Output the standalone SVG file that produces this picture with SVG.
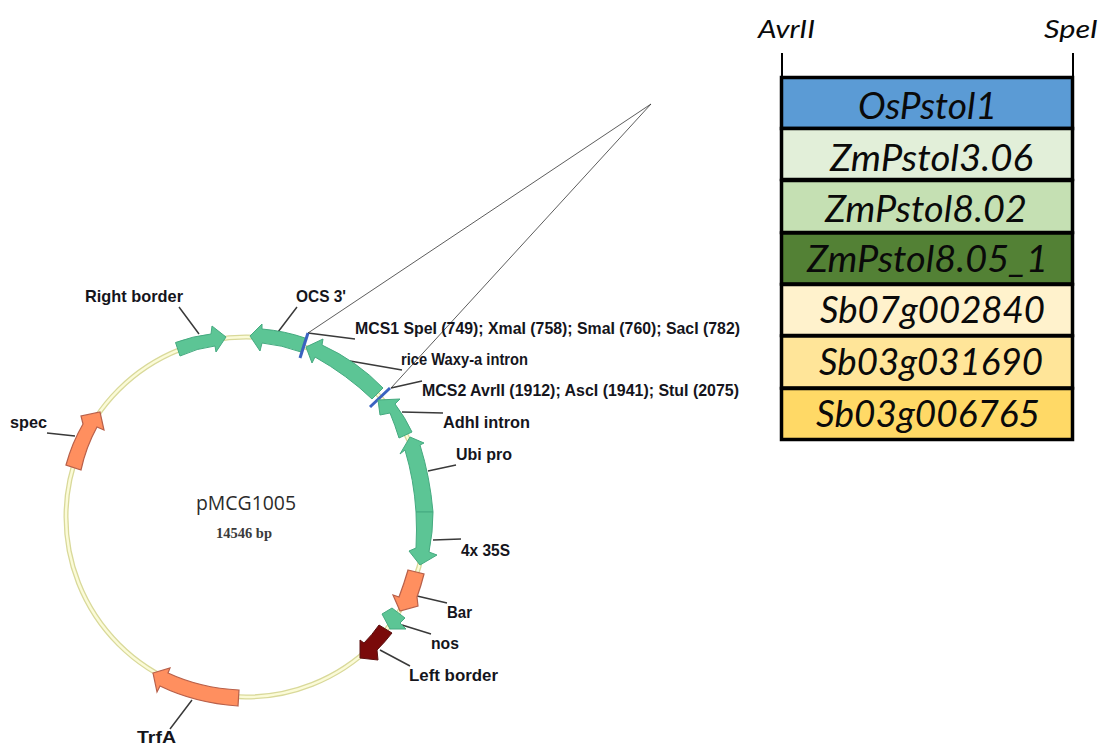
<svg xmlns="http://www.w3.org/2000/svg" width="1101" height="745" viewBox="0 0 1101 745">
<style>
.lab{font-family:"Liberation Sans",Arial,sans-serif;font-weight:700;font-size:17px;fill:#15151c}
.ld{stroke:#3a3a3a;stroke-width:1.5;fill:none}
.thin{stroke:#333;stroke-width:.8;fill:none}
.g{fill:#5cc595;stroke:#45aa80;stroke-width:1}
.o{fill:#ff8f5f;stroke:#b8604a;stroke-width:1.2}
.mcs{stroke:#3a62c0;stroke-width:3;fill:none}
.row{stroke:#000;stroke-width:3.500}
.gene{font-family:Lato,"Open Sans",sans-serif;font-style:italic;font-size:37px;fill:#0a0a0a}
.site{font-family:Lato,"Open Sans",sans-serif;font-style:italic;font-size:26px;fill:#0a0a0a}
</style>
<rect width="1101" height="745" fill="#fff"/>
<g id="backbone"><circle cx="246" cy="517" r="180" fill="none" stroke="#d9d99a" stroke-width="5"/><circle cx="246" cy="517" r="180" fill="none" stroke="#fbfbd8" stroke-width="2.400"/></g>
<g id="connectors">
<path class="thin" d="M308,333L651,104L391,388"/>
<path class="ld" d="M179,307L199,334M297,307L278,332M308,333L355,339M350,361L402,370M391,388L422,381M402,412L443,413M428,471L456,465M433,540L461,539M417,596L447,603M402,625L431,634M380,650L410,666M192,700L170,729M47,433L75,436"/>
</g>
<g id="right-border"><path class="g" d="M175.500,342.500Q193,336 211,334L212,326L226,337L216,352L215,346Q197,348 180,356Z"/><text class="lab" x="85" y="302" textLength="98" lengthAdjust="spacingAndGlyphs">Right border</text></g>
<g id="ocs"><path class="g" d="M250,336L262,324L262,329Q285,331 305,338L301,352Q282,345 262,343L260,351Z"/><text class="lab" x="296" y="302" textLength="50" lengthAdjust="spacingAndGlyphs">OCS 3'</text></g>
<g id="waxy"><path class="g" d="M306,347L323,339L322,345Q357,361 383,388L372,399Q347,375 315,357L312,363Z"/><text class="lab" x="401" y="365" textLength="127" lengthAdjust="spacingAndGlyphs">rice Waxy-a intron</text></g>
<g id="mcs1"><path class="mcs" d="M308,333L300,358"/><text class="lab" x="355" y="334" textLength="385" lengthAdjust="spacingAndGlyphs">MCS1 SpeI (749); XmaI (758); SmaI (760); SacI (782)</text></g>
<g id="mcs2"><path class="mcs" d="M370,407L390,388"/><text class="lab" x="422" y="396" textLength="317" lengthAdjust="spacingAndGlyphs">MCS2 AvrII (1912); AscI (1941); StuI (2075)</text></g>
<g id="adh"><path class="g" d="M378,400L400,399L395,404Q405,417 412,432L399,438Q395,425 390,413L380,415Z"/><text class="lab" x="443" y="428" textLength="87" lengthAdjust="spacingAndGlyphs">AdhI intron</text></g>
<g id="ubi"><path class="g" d="M410,437L424,443L420,445Q430,477 433,512L416,512Q414,480 405,450L400,454Z"/><text class="lab" x="456" y="460" textLength="56" lengthAdjust="spacingAndGlyphs">Ubi pro</text></g>
<g id="s35"><path class="g" d="M416,512L433,512Q433,532 429,552L437,555L420,565L409,551L416,548Q417,530 416,512Z"/><text class="lab" x="461" y="556" textLength="49" lengthAdjust="spacingAndGlyphs">4x 35S</text></g>
<g id="bar"><path class="o" d="M408,570L424,574Q421,586 417,597L418,606L400,611L393,595L399,597Q404,584 408,570Z"/><text class="lab" x="447" y="618" textLength="25" lengthAdjust="spacingAndGlyphs">Bar</text></g>
<g id="nos"><path class="g" d="M392,608L405,618L400,623L406,629L390,629L382,614Z"/><text class="lab" x="431" y="649" textLength="28" lengthAdjust="spacingAndGlyphs">nos</text></g>
<g id="left-border"><path d="M379,625L392,633Q385,642 377,650L378,660L360,658L360,640L364,643Q372,635 379,625Z" fill="#7a0a0a" stroke="#5a1010"/><text class="lab" x="409" y="681" textLength="89" lengthAdjust="spacingAndGlyphs">Left border</text></g>
<g id="trfa"><path class="o" d="M153,673L170,668L168,673Q200,688 239,690L238,706Q195,703 160,686L157,692Z"/><text class="lab" x="137" y="743" textLength="39" lengthAdjust="spacingAndGlyphs">TrfA</text></g>
<g id="spec"><path class="o" d="M100,412L104,430L97,427Q86,447 81,470L66,465Q72,443 83,424L81,416Z"/><text class="lab" x="10" y="428" textLength="37" lengthAdjust="spacingAndGlyphs">spec</text></g>
<g id="title"><text x="196" y="510" textLength="100" lengthAdjust="spacingAndGlyphs" font-family="'Open Sans',sans-serif" font-size="19.500" fill="#2b2b2b">pMCG1005</text><text x="216" y="538" textLength="56" lengthAdjust="spacingAndGlyphs" font-family="'Liberation Serif',serif" font-weight="700" font-size="14" fill="#3a3a3a">14546 bp</text></g>
<g id="sites"><path d="M782,53V77M1073,53V77" stroke="#000" stroke-width="2" fill="none"/><text class="site" x="758" y="38" textLength="57" lengthAdjust="spacingAndGlyphs">AvrII</text><text class="site" x="1044" y="38" textLength="54" lengthAdjust="spacingAndGlyphs">SpeI</text></g>
<g id="r1"><rect class="row" x="781.500" y="77.500" width="291" height="51" fill="#5b9bd5"/><text class="gene" x="858" y="119" textLength="139" lengthAdjust="spacingAndGlyphs">OsPstol1</text></g>
<g id="r2"><rect class="row" x="781.500" y="128.500" width="291" height="51" fill="#e2efd9"/><text class="gene" x="830" y="171" textLength="203" lengthAdjust="spacingAndGlyphs">ZmPstol3.06</text></g>
<g id="r3"><rect class="row" x="781.500" y="180.500" width="291" height="52" fill="#c5e0b3"/><text class="gene" x="825" y="222" textLength="202" lengthAdjust="spacingAndGlyphs">ZmPstol8.02</text></g>
<g id="r4"><rect class="row" x="781.500" y="233" width="291" height="51" fill="#538135"/><text class="gene" x="807" y="272" textLength="241" lengthAdjust="spacingAndGlyphs">ZmPstol8.05_1</text></g>
<g id="r5"><rect class="row" x="781.500" y="284.500" width="291" height="51" fill="#fff2cc"/><text class="gene" x="820" y="323" textLength="225" lengthAdjust="spacingAndGlyphs">Sb07g002840</text></g>
<g id="r6"><rect class="row" x="781.500" y="336" width="291" height="52" fill="#ffe599"/><text class="gene" x="819" y="375" textLength="224" lengthAdjust="spacingAndGlyphs">Sb03g031690</text></g>
<g id="r7"><rect class="row" x="781.500" y="388.500" width="291" height="51" fill="#ffd966"/><text class="gene" x="816" y="427" textLength="224" lengthAdjust="spacingAndGlyphs">Sb03g006765</text></g>
</svg>
